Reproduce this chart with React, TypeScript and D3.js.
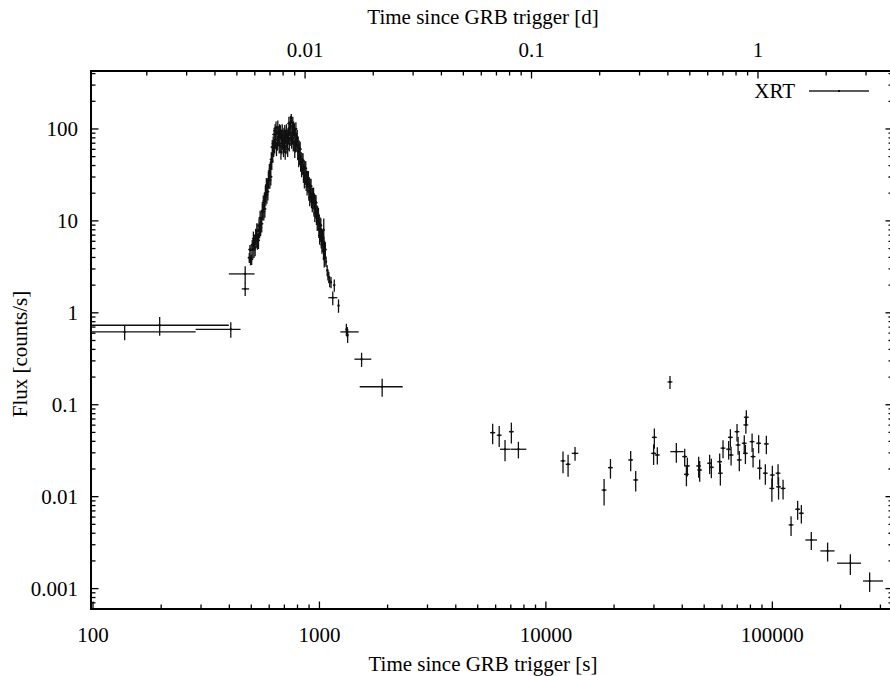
import React from 'react';
import * as d3 from 'd3';

const W = 890;
const H = 676;

// ---- Early PC-mode points ----
const earlyT = [138, 197, 406, 470, 470];
const earlyTNeg = [71, 99.5, 122, 72, 16];
const earlyTPos = [146, 201, 42.5, 47, 19];
const earlyF = [0.619, 0.732, 0.662, 2.65, 1.82];
const earlyFErr = [0.115, 0.169, 0.126, 0.57, 0.3];

// ---- Flare (WT mode): rise ----
const riseT = [
  490, 493, 496, 499, 502, 505, 508, 511, 514, 517, 520, 523, 526, 529, 532, 535, 538, 541, 544, 547,
  550, 553, 556, 559, 562, 565, 568, 571, 574, 577, 580, 583, 586, 589, 592, 595, 598, 601, 604, 607,
  610, 613, 616, 619, 622, 625, 628,
];
const riseTErr = [
  8, 8, 8, 8, 8, 8, 8, 8, 8, 8, 8, 8, 8, 8, 8, 8, 8, 9, 9, 9,
  9, 9, 9, 9, 9, 9, 9, 9, 9, 9, 9, 9, 9, 9, 9, 9, 9, 10, 10, 10,
  10, 10, 10, 10, 10, 10, 10,
];
const riseF = [
  3.98, 4.88, 3.77, 4.83, 3.82, 5.5, 4.88, 6.4, 4.94, 5.92, 5.13, 6.84, 6.46, 7.85, 6.05, 7.76, 6.14, 8.89, 8.05, 10.8,
  8.51, 10.5, 9.33, 12.9, 12.6, 15.8, 12.6, 16.6, 13.5, 20.0, 18.2, 24.4, 19.2, 23.5, 20.8, 28.5, 27.7, 34.8, 27.8, 36.9,
  30.2, 46.6, 44.5, 63.4, 53.2, 69.2, 61.7,
];
const riseFErr = [
  0.5, 0.6, 0.48, 0.6, 0.5, 0.7, 1.0, 1.25, 1.0, 1.2, 1.0, 1.35, 1.3, 1.55, 1.2, 1.55, 1.2, 1.75, 1.6, 2.1,
  1.7, 2.1, 1.85, 2.6, 2.5, 3.1, 2.5, 3.3, 2.7, 4.0, 3.6, 4.8, 3.8, 4.7, 4.1, 5.6, 5.5, 6.9, 5.5, 7.3,
  6.0, 9.2, 8.8, 12.5, 10.5, 13.7, 12.2,
];

// ---- Flare (WT mode): peak ----
const peakT = [
  631, 634, 637, 640, 643, 646, 649, 652, 655, 658, 661, 664, 667, 670, 673, 676, 679, 682, 685, 688,
  691, 694, 697, 700, 703, 706, 709, 712, 715, 718, 721, 724, 727, 730, 733, 736, 739, 742, 745, 748,
  751, 754, 757, 760, 763, 766, 769, 772, 775, 778, 781, 784, 787, 790,
];
const peakF = [
  87.1, 66.1, 95.5, 75.9, 102.3, 61.7, 91.2, 70.8, 104.7, 81.3, 87.1, 66.1, 95.5, 69.2, 93.3, 56.2, 83.2, 64.6, 95.5, 74.1,
  79.4, 60.3, 87.1, 69.2, 93.3, 56.2, 83.2, 64.6, 95.5, 74.1, 79.4, 60.3, 87.1, 85.1, 114.8, 69.2, 102.3, 79.4, 117.5, 91.2,
  131.8, 74.1, 107.2, 85.1, 114.8, 69.2, 102.3, 72.4, 97.7, 58.9, 87.1, 67.6, 100.0, 77.6,
];
const peakFErr = [
  15.7, 11.9, 17.2, 13.7, 18.4, 11.1, 16.4, 12.7, 18.8, 14.6, 15.7, 11.9, 17.2, 12.5, 16.8, 10.1, 15.0, 11.6, 17.2, 13.3,
  14.3, 10.9, 15.7, 12.5, 16.8, 10.1, 15.0, 11.6, 17.2, 13.3, 14.3, 10.9, 15.7, 15.3, 20.7, 12.5, 18.4, 14.3, 21.2, 16.4,
  14.0, 13.3, 19.3, 15.3, 20.7, 12.5, 18.4, 13.0, 17.6, 10.6, 15.7, 12.2, 18.0, 14.0,
];
const peakTErr = [
  12, 12, 12, 12, 12, 12, 12, 12, 12, 12, 12, 12, 12, 12, 12, 12, 12, 12, 12, 12,
  12, 12, 12, 12, 12, 12, 12, 12, 12, 12, 12, 12, 12, 12, 12, 12, 12, 12, 12, 12,
  12, 12, 12, 12, 12, 12, 12, 12, 12, 12, 12, 12, 12, 12,
];

// ---- Flare (WT mode): decay ----
const decayT = [
  794, 798, 802, 806, 810, 814, 818, 822, 826, 830, 834, 838, 842, 846, 850, 854, 858, 862, 866, 870,
  874, 878, 882, 886, 890, 894, 898, 902, 906, 910, 914, 918, 922, 926, 930, 934, 938, 942, 946, 950,
  954, 958, 962, 966, 970, 974, 978, 982, 986, 990, 994, 998, 1002, 1006, 1010, 1014, 1018, 1022, 1026, 1030,
  1034, 1038, 1042, 1046, 1050, 1054, 1058, 1062,
];
const decayF = [
  72.4, 81.3, 57.3, 66.7, 47.9, 62.5, 50.4, 60.3, 42.7, 46.8, 37.2, 45.7, 40.0, 45.3, 32.4, 38.4, 28.1, 37.3, 30.6, 37.2,
  26.5, 29.4, 23.6, 29.2, 25.7, 29.1, 20.8, 24.7, 18.0, 24.0, 19.7, 23.9, 17.1, 19.1, 15.5, 19.2, 16.9, 19.2, 13.9, 16.6,
  12.1, 16.1, 13.2, 15.8, 11.2, 12.3, 9.77, 12.0, 10.3, 11.5, 8.13, 9.55, 6.92, 9.12, 7.41, 8.91, 6.31, 6.92, 5.5, 6.76,
  5.89, 6.61, 4.66, 5.42, 3.89, 5.08, 4.09, 4.88,
];
const decayFErr = [
  14.5, 16.3, 11.5, 13.3, 9.6, 12.5, 10.1, 12.1, 8.5, 9.4, 7.4, 9.1, 8.0, 9.1, 6.5, 7.7, 5.6, 7.5, 6.1, 7.4,
  5.3, 5.9, 4.7, 5.8, 5.1, 5.8, 4.2, 4.9, 3.6, 4.8, 3.9, 4.8, 3.4, 3.8, 3.1, 3.8, 3.4, 3.8, 2.8, 3.3,
  2.4, 3.2, 2.6, 3.2, 2.2, 2.5, 2.0, 2.4, 2.1, 2.3, 1.6, 1.9, 1.4, 1.8, 1.5, 1.8, 1.3, 1.4, 1.1, 1.35,
  1.2, 1.3, 0.93, 1.1, 0.78, 1.0, 0.82, 0.98,
];
const decayTErr = [
  13, 13, 13, 13, 13, 13, 13, 13, 13, 13, 13, 13, 13, 13, 13, 13, 13, 13, 13, 13,
  14, 14, 14, 14, 14, 14, 14, 14, 14, 14, 14, 14, 14, 14, 14, 14, 14, 14, 14, 14,
  15, 15, 15, 15, 15, 15, 15, 15, 15, 15, 15, 15, 15, 15, 15, 15, 15, 15, 15, 15,
  15, 15, 15, 15, 15, 15, 15, 15,
];

// ---- Flare tail ----
const tailT = [1045, 1070, 1082, 1090, 1100, 1110, 1125, 1163, 1145, 1214, 1315, 1327, 1332, 1535, 1892];
const tailTNeg = [4, 5, 5, 6, 6, 7, 8, 10, 50, 10, 8, 90, 8, 108, 386];
const tailTPos = [4, 5, 5, 6, 6, 7, 8, 10, 55, 10, 8, 163, 8, 160, 440];
const tailF = [8.0, 3.6, 2.9, 2.6, 2.45, 2.2, 2.15, 2.0, 1.46, 1.2, 0.66, 0.62, 0.57, 0.313, 0.157];
const tailFErr = [2.6, 0.45, 0.4, 0.35, 0.35, 0.3, 0.3, 0.3, 0.25, 0.2, 0.1, 0.08, 0.1, 0.055, 0.035];

// ---- Late PC-mode points ----
const lateT = [
  5820, 6220, 6600, 7040, 7560, 11900, 12530, 13450, 18070, 19280, 23680, 24920, 30130, 29900, 31050, 35320,
  37670, 41010, 42150, 41730, 47270, 47760, 52850, 53790, 58530, 58940, 60560, 64120, 65260, 65730, 69820, 70580,
  71470, 75160, 76740, 76400, 76030, 81380, 82190, 86990, 87890, 94080, 93110, 100000, 99500, 105970, 106500, 111500,
  120940, 129320, 134290, 148600, 175400, 221000, 268900,
];
const lateTNeg = [
  150, 150, 330, 170, 590, 290, 300, 450, 440, 470, 580, 610, 740, 730, 760, 870,
  2230, 1000, 1030, 1020, 1160, 1170, 1300, 1320, 1430, 1440, 1480, 1570, 1600, 1610, 1710, 1730,
  1750, 1840, 1880, 1870, 1860, 1990, 2010, 2130, 2150, 2300, 2280, 2450, 2440, 2600, 2600, 2730,
  2960, 3160, 3290, 8700, 12400, 27900, 17500,
];
const lateTPos = [
  150, 150, 330, 170, 640, 290, 300, 450, 440, 470, 580, 610, 740, 730, 760, 870,
  2880, 1000, 1030, 1020, 1160, 1170, 1300, 1320, 1430, 1440, 1480, 1570, 1600, 1610, 1710, 1730,
  1750, 1840, 1880, 1870, 1860, 1990, 2010, 2130, 2150, 2300, 2280, 2450, 2440, 2600, 2600, 2730,
  2960, 3160, 3290, 8900, 12900, 25400, 39200,
];
const lateF = [
  0.0497, 0.0466, 0.0328, 0.0509, 0.0328, 0.0245, 0.0225, 0.0296, 0.0118, 0.0207, 0.0251, 0.0152, 0.0442, 0.0296, 0.0284, 0.177,
  0.0309, 0.0273, 0.0216, 0.0175, 0.0216, 0.0195, 0.0231, 0.0209, 0.024, 0.018, 0.0337, 0.0328, 0.0442, 0.0284, 0.0509, 0.0365,
  0.0251, 0.0381, 0.0731, 0.0603, 0.0296, 0.0397, 0.0273, 0.0381, 0.0204, 0.0375, 0.018, 0.0172, 0.0123, 0.018, 0.0128, 0.0123,
  0.00493, 0.0073, 0.0066, 0.00338, 0.00257, 0.00189, 0.00121,
];
const lateFErr = [
  0.0125, 0.012, 0.0085, 0.013, 0.0067, 0.0065, 0.006, 0.005, 0.0038, 0.005, 0.0062, 0.0038, 0.011, 0.0075, 0.006, 0.029,
  0.0075, 0.006, 0.005, 0.0045, 0.0055, 0.005, 0.0055, 0.005, 0.0055, 0.0048, 0.0075, 0.0075, 0.01, 0.0065, 0.011, 0.008,
  0.0062, 0.0085, 0.014, 0.012, 0.007, 0.009, 0.0065, 0.0085, 0.005, 0.0085, 0.0045, 0.0045, 0.0035, 0.0045, 0.0035, 0.003,
  0.0012, 0.0017, 0.0015, 0.00075, 0.0006, 0.00048, 0.00029,
];

// ---- Axis ticks ----
const xMajorTicks = [100, 1000, 10000, 100000];
const xTickLabels = ['100', '1000', '10000', '100000'];
const dayMajorTicks = [0.01, 0.1, 1];
const dayTickLabels = ['0.01', '0.1', '1'];
const yMajorTicks = [0.001, 0.01, 0.1, 1, 10, 100];
const yTickLabels = ['0.001', '0.01', '0.1', '1', '10', '100'];

const xTitle = 'Time since GRB trigger [s]';
const x2Title = 'Time since GRB trigger [d]';
const yTitle = 'Flux [counts/s]';
const legendLabel = 'XRT';

const FONT = "'Liberation Serif', 'DejaVu Serif', serif";

type Pt = { t: number; tn: number; tp: number; f: number; fe: number };

function collect(t: number[], tn: number[], tp: number[], f: number[], fe: number[]): Pt[] {
  return t.map((v, i) => ({ t: v, tn: tn[i], tp: tp[i], f: f[i], fe: fe[i] }));
}

export default function App() {
  const left = 91;
  const right = 893;
  const top = 71;
  const bottom = 609;

  const x = d3.scaleLog().domain([98, 341000]).range([left, right]);
  const y = d3.scaleLog().domain([6e-4, 427]).range([bottom, top]);
  const xd = (d: number) => x(d * 86400);

  const pts: Pt[] = [
    ...collect(earlyT, earlyTNeg, earlyTPos, earlyF, earlyFErr),
    ...collect(riseT, riseTErr, riseTErr, riseF, riseFErr),
    ...collect(peakT, peakTErr, peakTErr, peakF, peakFErr),
    ...collect(decayT, decayTErr, decayTErr, decayF, decayFErr),
    ...collect(tailT, tailTNeg, tailTPos, tailF, tailFErr),
    ...collect(lateT, lateTNeg, lateTPos, lateF, lateFErr),
  ];

  const [xmin, xmax] = x.domain();
  const [ymin, ymax] = y.domain();

  const minorsLog = (lo: number, hi: number) => {
    const out: number[] = [];
    for (let e = Math.floor(Math.log10(lo)); e <= Math.ceil(Math.log10(hi)); e++) {
      for (let m = 1; m <= 9; m++) {
        const v = m * Math.pow(10, e);
        if (v >= lo * 0.999 && v <= hi * 1.001) out.push(v);
      }
    }
    return out;
  };
  const notIn = (arr: number[]) => (v: number) => !arr.some((m) => Math.abs(m - v) / m < 1e-6);

  const xMinor = minorsLog(xmin, xmax).filter(notIn(xMajorTicks));
  const dMinor = minorsLog(xmin / 86400, xmax / 86400).filter(notIn(dayMajorTicks));
  const yMinor = minorsLog(ymin, ymax).filter(notIn(yMajorTicks));

  const major = 7.5;
  const minor = 4.5;
  const textStyle = { fontFamily: FONT, fontSize: 21 } as React.CSSProperties;

  return (
    <svg width={W} height={H} style={{ position: 'absolute', left: 0, top: 0, background: '#fff' }}>
      <rect x={0} y={0} width={W} height={H} fill="#fff" />
      <defs>
        <clipPath id="plotclip">
          <rect x={left} y={top} width={right - left} height={bottom - top} />
        </clipPath>
      </defs>

      {/* data */}
      <g clipPath="url(#plotclip)" stroke="#111" strokeWidth={1.3} fill="none">
        {pts.map((p, i) => {
          const cx = x(p.t);
          const cy = y(p.f);
          const lo = Math.max(p.f - p.fe, ymin * 0.5);
          return (
            <g key={i}>
              <line x1={cx} x2={cx} y1={y(lo)} y2={y(p.f + p.fe)} />
              <line x1={x(Math.max(p.t - p.tn, 1))} x2={x(p.t + p.tp)} y1={cy} y2={cy} />
              <rect x={cx - 1} y={cy - 1} width={2} height={2} fill="#111" stroke="none" />
            </g>
          );
        })}
      </g>

      {/* ticks */}
      <g stroke="#000" strokeWidth={1.3}>
        {xMajorTicks.map((v) => (
          <line key={'xb' + v} x1={x(v)} x2={x(v)} y1={bottom} y2={bottom - major} />
        ))}
        {xMinor.map((v) => (
          <line key={'xbm' + v} x1={x(v)} x2={x(v)} y1={bottom} y2={bottom - minor} />
        ))}
        {dayMajorTicks.map((v) => (
          <line key={'xt' + v} x1={xd(v)} x2={xd(v)} y1={top} y2={top + major} />
        ))}
        {dMinor.map((v) => (
          <line key={'xtm' + v} x1={xd(v)} x2={xd(v)} y1={top} y2={top + minor} />
        ))}
        {yMajorTicks.map((v) => (
          <g key={'y' + v}>
            <line x1={left} x2={left + major} y1={y(v)} y2={y(v)} />
            <line x1={right} x2={right - major} y1={y(v)} y2={y(v)} />
          </g>
        ))}
        {yMinor.map((v) => (
          <g key={'ym' + v}>
            <line x1={left} x2={left + minor} y1={y(v)} y2={y(v)} />
            <line x1={right} x2={right - minor} y1={y(v)} y2={y(v)} />
          </g>
        ))}
      </g>

      {/* border */}
      <rect x={left} y={top} width={right - left} height={bottom - top} fill="none" stroke="#000" strokeWidth={2} />

      {/* tick labels */}
      <g style={textStyle} fill="#000">
        {xMajorTicks.map((v, i) => (
          <text key={'xl' + v} x={x(v)} y={642} textAnchor="middle">
            {xTickLabels[i]}
          </text>
        ))}
        {dayMajorTicks.map((v, i) => (
          <text key={'dl' + v} x={xd(v)} y={57} textAnchor="middle">
            {dayTickLabels[i]}
          </text>
        ))}
        {yMajorTicks.map((v, i) => (
          <text key={'yl' + v} x={78} y={y(v) + 7} textAnchor="end">
            {yTickLabels[i]}
          </text>
        ))}
      </g>

      {/* titles */}
      <g style={textStyle} fill="#000">
        <text x={483} y={671} textAnchor="middle">
          {xTitle}
        </text>
        <text x={483} y={24} textAnchor="middle">
          {x2Title}
        </text>
        <text transform={`translate(27, ${(top + bottom) / 2 + 14}) rotate(-90)`} textAnchor="middle">
          {yTitle}
        </text>
      </g>

      {/* legend */}
      <g>
        <text x={795} y={98} style={textStyle} textAnchor="end" fill="#000">
          {legendLabel}
        </text>
        <line x1={809} x2={869} y1={91} y2={91} stroke="#222" strokeWidth={1.3} />
        <rect x={838} y={90} width={2} height={2} fill="#111" />
      </g>
    </svg>
  );
}
